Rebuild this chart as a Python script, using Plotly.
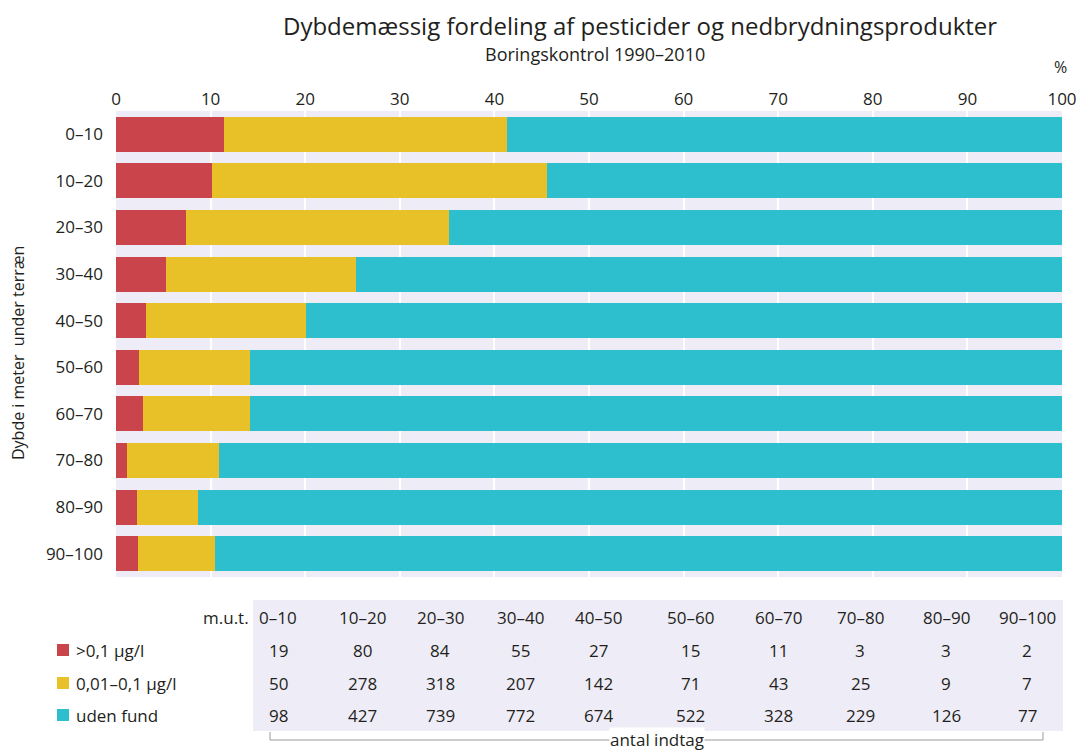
import plotly.graph_objects as go

# Depth intervals (metres below ground) and number of samples per class
depths = ["0–10", "10–20", "20–30", "30–40", "40–50",
          "50–60", "60–70", "70–80", "80–90", "90–100"]
over_01 = [19, 80, 84, 55, 27, 15, 11, 3, 3, 2]
between = [50, 278, 318, 207, 142, 71, 43, 25, 9, 7]
no_find = [98, 427, 739, 772, 674, 522, 328, 229, 126, 77]

series_names = [">0,1 µg/l", "0,01–0,1 µg/l", "uden fund"]
colors = ["#C9444B", "#E8C128", "#2EBFCE"]
x_ticks = list(range(0, 101, 10))

totals = [a + b + c for a, b, c in zip(over_01, between, no_find)]
pct = [[100 * v / t for v, t in zip(s, totals)] for s in (over_01, between, no_find)]

W, H = 1079, 751
L, R, T, B = 116, 17, 111, 174
PW, PH = W - L - R, H - T - B


def px(x):
    return (x - L) / PW


def py(y):
    return (H - B - y) / PH


FONT = "Open Sans"
NARROW = "Liberation Sans Narrow, Open Sans"
TXT = "#231F20"


def label(text, x, y, size, xanchor="center", family=FONT, **kw):
    return dict(text=text, x=px(x), y=py(y), xref="paper", yref="paper",
                xanchor=xanchor, yanchor="middle", showarrow=False,
                font=dict(size=size, color=TXT, family=family), **kw)


fig = go.Figure()
for name, vals, col in zip(series_names, pct, colors):
    fig.add_trace(go.Bar(y=depths, x=vals, orientation="h", name=name,
                         marker=dict(color=col, line=dict(width=0)),
                         showlegend=False))

annotations = [
    label("Dybdemæssig fordeling af pesticider og nedbrydningsprodukter",
          640, 26, 24),
    label("Boringskontrol 1990–2010", 595, 54, 18),
    label("%", 1060, 67, 16),
    label("Dybde i meter  under terræn", 18, 353, 16, textangle=-90),
    label("m.u.t.", 251, 617, 17, xanchor="right"),
    label("antal indtag", 657, 739, 17, bgcolor="white", borderpad=0),
]

shapes = [
    # table background
    dict(type="rect", xref="paper", yref="paper", x0=px(253), x1=px(1063),
         y0=py(731), y1=py(600), fillcolor="#EEECF6", line=dict(width=0),
         layer="below"),
    # bracket under the table
    dict(type="path", xref="paper", yref="paper",
         path=f"M {px(270)} {py(732)} L {px(270)} {py(740)} L {px(1043)} {py(740)} L {px(1043)} {py(732)}",
         line=dict(color="#9A9A9A", width=1)),
]

# table columns
col_x = [278, 362, 440, 520, 598, 690, 778, 860, 946, 1027]
row_y = [617, 650, 683, 715]
for i, d in enumerate(depths):
    cells = [d, over_01[i], between[i], no_find[i]]
    for yy, val in zip(row_y, cells):
        annotations.append(label(str(val), col_x[i], yy, 17, family=NARROW))

# legend keys
for name, col, yy in zip(series_names, colors, row_y[1:]):
    shapes.append(dict(type="rect", xref="paper", yref="paper",
                       x0=px(57), x1=px(69), y0=py(yy + 6), y1=py(yy - 6),
                       fillcolor=col, line=dict(width=0)))
    annotations.append(label(name, 74, yy, 17, xanchor="left"))

fig.update_layout(
    width=W, height=H, autosize=False,
    margin=dict(l=L, r=R, t=T, b=B, autoexpand=False),
    barmode="stack", bargap=0.25,
    paper_bgcolor="white", plot_bgcolor="#EEECF6",
    font=dict(family=FONT, color=TXT, size=16),
    xaxis=dict(side="top", range=[0, 100], tickvals=x_ticks,
               ticktext=[str(v) for v in x_ticks], showgrid=True,
               gridcolor="white", gridwidth=2, zeroline=False,
               showline=False, ticks="", tickfont=dict(size=17),
               automargin=False, ticklabelstandoff=2),
    yaxis=dict(categoryorder="array", categoryarray=depths,
               autorange="reversed", showgrid=False, zeroline=False,
               ticks="", ticklabelstandoff=12, tickfont=dict(size=17),
               automargin=False),
    annotations=annotations, shapes=shapes,
)

fig.write_html("out.html")
